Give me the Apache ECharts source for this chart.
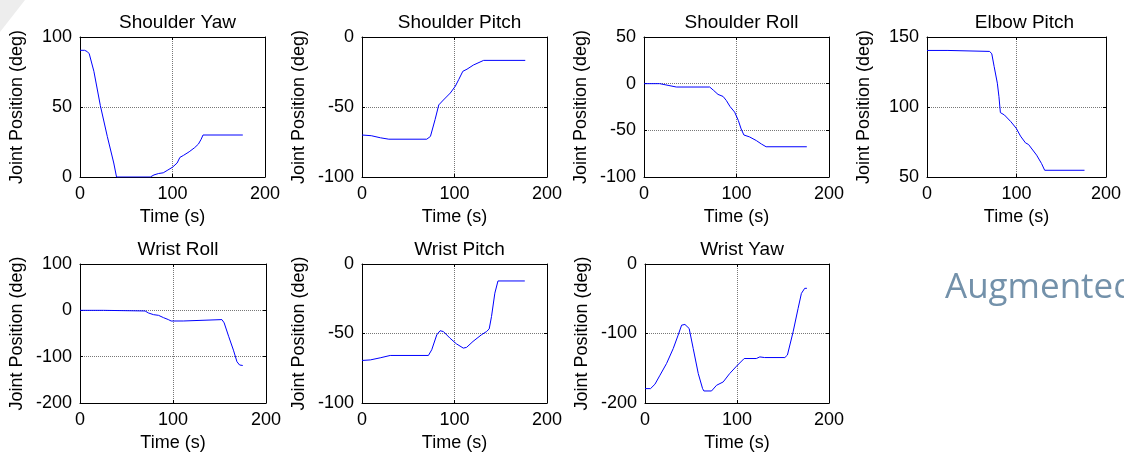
<!DOCTYPE html>
<html>
<head>
<meta charset="utf-8">
<script src="https://cdn.jsdelivr.net/npm/echarts@6/dist/echarts.min.js"></script>
<style>
  html, body { margin: 0; padding: 0; background: #fff; }
  #chart { width: 1124px; height: 458px; }
</style>
</head>
<body>
<div id="chart"></div>
<script>
// joint names, in subplot order
var titles = ['Shoulder Yaw', 'Shoulder Pitch', 'Shoulder Roll', 'Elbow Pitch',
              'Wrist Roll', 'Wrist Pitch', 'Wrist Yaw'];

// y axis [min, max, interval] per subplot
var yMin = [0, -100, -100, 50, -200, -100, -200];
var yMax = [100, 0, 50, 150, 100, 0, 0];
var yStep = [50, 50, 50, 50, 100, 50, 100];
var timeTicks = [0, 100, 200];

// [time (s), joint position (deg)]
var shoulderYaw = [[0,90.5],[5,90.5],[8,89.5],[10,88],[15,75.5],[22,51],[29.5,29],[36.5,10],[39.5,0],
  [76,0],[80,1.5],[85,2.5],[90,3],[95,5],[100,7],[105,10],[108,14],[112,15.5],[118,18],[124,21],
  [128,23.5],[131,27],[133,30],[176,30]];
var shoulderPitch = [[0,-70],[10,-70.5],[20,-72],[29,-73],[70,-73],[74,-71],[79,-59],[83,-48.5],
  [88,-45],[95.5,-40],[101,-35],[104.5,-30.5],[109,-24.5],[113.5,-23],[120.5,-20],[131.5,-16.7],[176.5,-16.7]];
var shoulderRoll = [[0,0],[17,0],[19,-1],[26,-1.8],[35,-3.6],[71,-3.6],[75,-7],[80,-11.5],[85.5,-13.7],
  [89,-18],[93,-24.5],[98,-30.5],[102,-39.5],[105,-48.5],[108,-55],[114,-57],[121.5,-61],[127,-64.7],
  [132,-67.6],[176,-67.6]];
var elbowPitch = [[0,140.4],[23.4,140.4],[25,139.7],[70,139.7],[72.4,138],[75,129],[78.6,117],[80.4,107.4],
  [82,96],[86.5,94.3],[93.7,89.5],[99.8,84.7],[104.5,79.2],[110,74.4],[113.5,73.2],[122.5,65.6],
  [128,59.6],[131.5,54.8],[176,54.8]];
var wristRoll = [[0,0],[25,0],[27,-1.4],[70,-1.4],[73.6,-5.7],[79,-9.3],[84.4,-10.8],[89.8,-15.8],
  [95,-20],[98,-23],[111,-23],[113,-20],[152.6,-20],[155,-27],[159.8,-56],[165,-86],[168.8,-111],
  [171.6,-118],[175,-119]];
var wristPitch = [[0,-69.4],[9,-69],[19.7,-67.5],[30.5,-65.8],[71.8,-65.8],[75.4,-61.7],[80.8,-51],
  [84.4,-48],[88,-48.6],[95,-53.3],[102,-57.4],[109.5,-60.5],[113,-60],[120,-55.7],[129,-51],
  [134.6,-48.6],[137.5,-46.7],[140,-37.8],[143.6,-21],[147,-12.2],[176,-12.2]];
var wristYaw = [[0,-179.3],[6,-179.3],[10.8,-173],[16.3,-160],[23.5,-143],[30.7,-121.6],[36,-102.4],
  [39.8,-88],[43.4,-87],[48,-92.8],[52.4,-121.6],[57.9,-157.7],[62.6,-179.3],[64,-182.7],[72.3,-182.7],
  [77.8,-174.5],[85,-169.7],[92,-157.7],[99.5,-147],[107.8,-136],[121,-136],[124.8,-133.7],[130,-134.6],
  [152,-134.6],[154.8,-131],[161,-97.6],[166.4,-64],[170,-42.3],[173.6,-35],[176,-35]];

var joints = [shoulderYaw, shoulderPitch, shoulderRoll, elbowPitch, wristRoll, wristPitch, wristYaw];

// plot boxes [left, top, width, height] in px
var boxes = [[80,37,185,140],[362,37,185,140],[644,37,185,140],[927,37,185,140],
             [80,264,186,139],[362,264,185,139],[645,264,184,139]];

var font = 'Liberation Sans, Arial, sans-serif';
var black = '#000';
var gridColor = '#777';

var grid = [], xAxis = [], yAxis = [], title = [], series = [];
var n = titles.length;

// main axes: bottom / left
for (var i = 0; i < n; i++) {
  var b = boxes[i];
  grid.push({ left: b[0], top: b[1], width: b[2], height: b[3], show: false });
  title.push({
    text: titles[i],
    left: b[0] + b[2] / 2,
    top: b[1] - 29,
    textAlign: 'center',
    textStyle: { fontFamily: font, fontSize: 19, fontWeight: 'normal', color: black }
  });
  xAxis.push({
    type: 'value', gridIndex: i, min: timeTicks[0], max: timeTicks[timeTicks.length - 1],
    interval: timeTicks[1] - timeTicks[0], position: 'bottom',
    name: 'Time (s)', nameLocation: 'middle', nameGap: 31, nameMoveOverlap: false,
    nameTextStyle: { fontFamily: font, fontSize: 18, color: black },
    axisLine: { onZero: false, lineStyle: { color: black, width: 1 } },
    axisTick: { inside: true, length: 3, lineStyle: { color: black } },
    axisLabel: { fontFamily: font, fontSize: 18, color: black, margin: 8 },
    splitLine: { show: true, lineStyle: { color: gridColor, type: 'dotted', width: 1 } }
  });
  yAxis.push({
    type: 'value', gridIndex: i, min: yMin[i], max: yMax[i], interval: yStep[i], position: 'left',
    name: 'Joint Position (deg)', nameLocation: 'middle', nameGap: 54, nameMoveOverlap: false,
    nameTextStyle: { fontFamily: font, fontSize: 18, color: black },
    axisLine: { show: true, onZero: false, lineStyle: { color: black, width: 1 } },
    axisTick: { show: true, inside: true, length: 3, lineStyle: { color: black } },
    axisLabel: { fontFamily: font, fontSize: 18, color: black, margin: 8 },
    splitLine: { show: true, lineStyle: { color: gridColor, type: 'dotted', width: 1 } }
  });
  series.push({
    type: 'line', xAxisIndex: i, yAxisIndex: i, data: joints[i],
    showSymbol: false, symbol: 'none', silent: true,
    lineStyle: { color: '#0000ff', width: 1 }
  });
}

// box: top / right axes with inward ticks, no labels
for (var j = 0; j < n; j++) {
  xAxis.push({
    type: 'value', gridIndex: j, min: timeTicks[0], max: timeTicks[timeTicks.length - 1],
    interval: timeTicks[1] - timeTicks[0], position: 'top',
    axisLine: { onZero: false, lineStyle: { color: black, width: 1 } },
    axisTick: { inside: true, length: 3, lineStyle: { color: black } },
    axisLabel: { show: false }, splitLine: { show: false }
  });
  yAxis.push({
    type: 'value', gridIndex: j, min: yMin[j], max: yMax[j], interval: yStep[j], position: 'right',
    axisLine: { show: true, onZero: false, lineStyle: { color: black, width: 1 } },
    axisTick: { show: true, inside: true, length: 3, lineStyle: { color: black } },
    axisLabel: { show: false }, splitLine: { show: false }
  });
}

var option = {
  animation: false,
  backgroundColor: '#fff',
  title: title,
  grid: grid,
  xAxis: xAxis,
  yAxis: yAxis,
  series: series,
  graphic: [
    {
      type: 'polygon', z: -10, silent: true,
      shape: { points: [[0, 0], [25, 0], [0, 32]] },
      style: { fill: '#ededed' }
    },
    {
      type: 'text', left: 945, top: 271, silent: true,
      style: { text: 'Augmented', fill: '#7391aa', font: '35px "Open Sans", sans-serif' }
    }
  ]
};

var myChart = echarts.init(document.getElementById('chart'));
myChart.setOption(option);
</script>
</body>
</html>
